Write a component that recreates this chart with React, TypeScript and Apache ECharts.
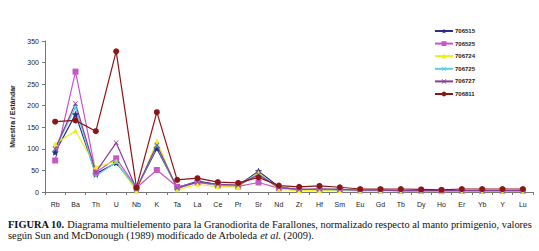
import React, { useEffect, useRef } from "react";
import * as echarts from "echarts";

const elements = ["Rb","Ba","Th","U","Nb","K","Ta","La","Ce","Pr","Sr","Nd","Zr","Hf","Sm","Eu","Gd","Tb","Dy","Ho","Er","Yb","Y","Lu"];

const s706515 = [92,180,42,68,8,101,10,25,17,15,48,12,5,6,6,4,4,3,3,3,3,3,3,3];
const s706525 = [73,279,45,78,10,51,12,22,15,13,22,9,6,6,5,4,4,3,3,3,3,3,3,3];
const s706724 = [111,142,58,71,2,118,5,18,12,12,45,6,3,3,3,2,2,2,2,2,2,2,2,2];
const s706725 = [100,196,37,69,8,106,8,22,17,15,43,10,6,6,5,4,4,3,3,3,3,3,3,3];
const s706727 = [100,205,46,114,7,109,9,23,18,16,40,10,6,7,6,4,4,3,3,3,3,3,3,3];
const s706811 = [163,166,141,326,10,185,28,32,23,21,34,15,12,14,11,7,7,7,6,5,7,7,7,7];

const yTicks = { min: 0, max: 350, interval: 50 };

const seriesDefs = [
  { name: "706515", data: s706515, color: "#2b2f86", symbol: "path://M0,-10 L2.9,-4 9.5,-3.1 4.8,1.5 5.9,8.1 0,5 -5.9,8.1 -4.8,1.5 -9.5,-3.1 -2.9,-4Z", size: 7 },
  { name: "706525", data: s706525, color: "#c956c8", symbol: "rect", size: 6 },
  { name: "706724", data: s706724, color: "#eded1a", symbol: "triangle", size: 5 },
  { name: "706725", data: s706725, color: "#5ccfe0", symbol: "path://M-5,-4 L-4,-5 0,-1 4,-5 5,-4 1,0 5,4 4,5 0,1 -4,5 -5,4 -1,0Z", size: 5 },
  { name: "706727", data: s706727, color: "#8a3d97", symbol: "path://M-5,-4 L-4,-5 0,-1 4,-5 5,-4 1,0 5,4 4,5 0,1 -4,5 -5,4 -1,0Z", size: 5 },
  { name: "706811", data: s706811, color: "#8c1515", symbol: "circle", size: 6 },
];

export default function App() {
  const ref = useRef<HTMLDivElement>(null);
  useEffect(() => {
    if (!ref.current) return;
    const chart = echarts.init(ref.current, null, { renderer: "svg" });
    const font = "Liberation Sans, Arial, sans-serif";
    const serif = "Liberation Serif, 'Times New Roman', serif";
    const capSize = 10.4;
    chart.setOption({
      animation: false,
      backgroundColor: "#ffffff",
      grid: { left: 45, right: 6, top: 41, bottom: 59 },
      legend: {
        orient: "vertical",
        left: 429,
        top: 23,
        itemWidth: 18,
        itemHeight: 6,
        itemGap: 6.6,
        textStyle: { fontSize: 6, fontWeight: "bold", color: "#222", fontFamily: font, padding: [0, 0, 0, -3] },
        data: seriesDefs.map((s) => s.name),
      },
      xAxis: {
        type: "category",
        data: elements,
        boundaryGap: true,
        axisLine: { lineStyle: { color: "#777", width: 1 } },
        axisTick: { show: true, length: 3, lineStyle: { color: "#777" } },
        axisLabel: { fontSize: 7, color: "#222", fontFamily: font, margin: 9, interval: 0 },
        splitLine: { show: false },
      },
      yAxis: {
        type: "value",
        min: yTicks.min,
        max: yTicks.max,
        interval: yTicks.interval,
        name: "Muestra / Estándar",
        nameLocation: "middle",
        nameGap: 25,
        nameTextStyle: { fontSize: 7, fontWeight: "bold", color: "#222", fontFamily: font },
        axisLine: { show: true, lineStyle: { color: "#777", width: 1 } },
        axisTick: { show: true, length: 3, lineStyle: { color: "#777" } },
        axisLabel: { fontSize: 7, color: "#222", fontFamily: font, margin: 6 },
        splitLine: { show: false },
      },
      series: seriesDefs.map((s) => ({
        name: s.name,
        type: "line",
        data: s.data,
        symbol: s.symbol,
        symbolSize: s.size,
        showSymbol: true,
        lineStyle: { color: s.color, width: 1.2 },
        itemStyle: { color: s.color, borderWidth: 0 },
        emphasis: { disabled: true },
      })),
      graphic: [
        {
          type: "text",
          left: 8,
          top: 219,
          style: {
            text: "{b|FIGURA 10.} Diagrama multielemento para la Granodiorita de Farallones, normalizado respecto al manto primigenio, valores",
            fontFamily: serif,
            fontSize: capSize,
            fill: "#111",
            rich: {
              b: { fontWeight: "bold", fontFamily: serif, fontSize: capSize, fill: "#111" },
            },
          },
        },
        {
          type: "text",
          left: 8,
          top: 230.5,
          style: {
            text: "según Sun and McDonough (1989) modificado de Arboleda {i|et al.} (2009).",
            fontFamily: serif,
            fontSize: capSize,
            fill: "#111",
            rich: {
              i: { fontStyle: "italic", fontFamily: serif, fontSize: capSize, fill: "#111" },
            },
          },
        },
      ],
    });
    return () => chart.dispose();
  }, []);
  return <div ref={ref} style={{ width: 539, height: 251, position: "absolute", left: 0, top: 0 }} />;
}
